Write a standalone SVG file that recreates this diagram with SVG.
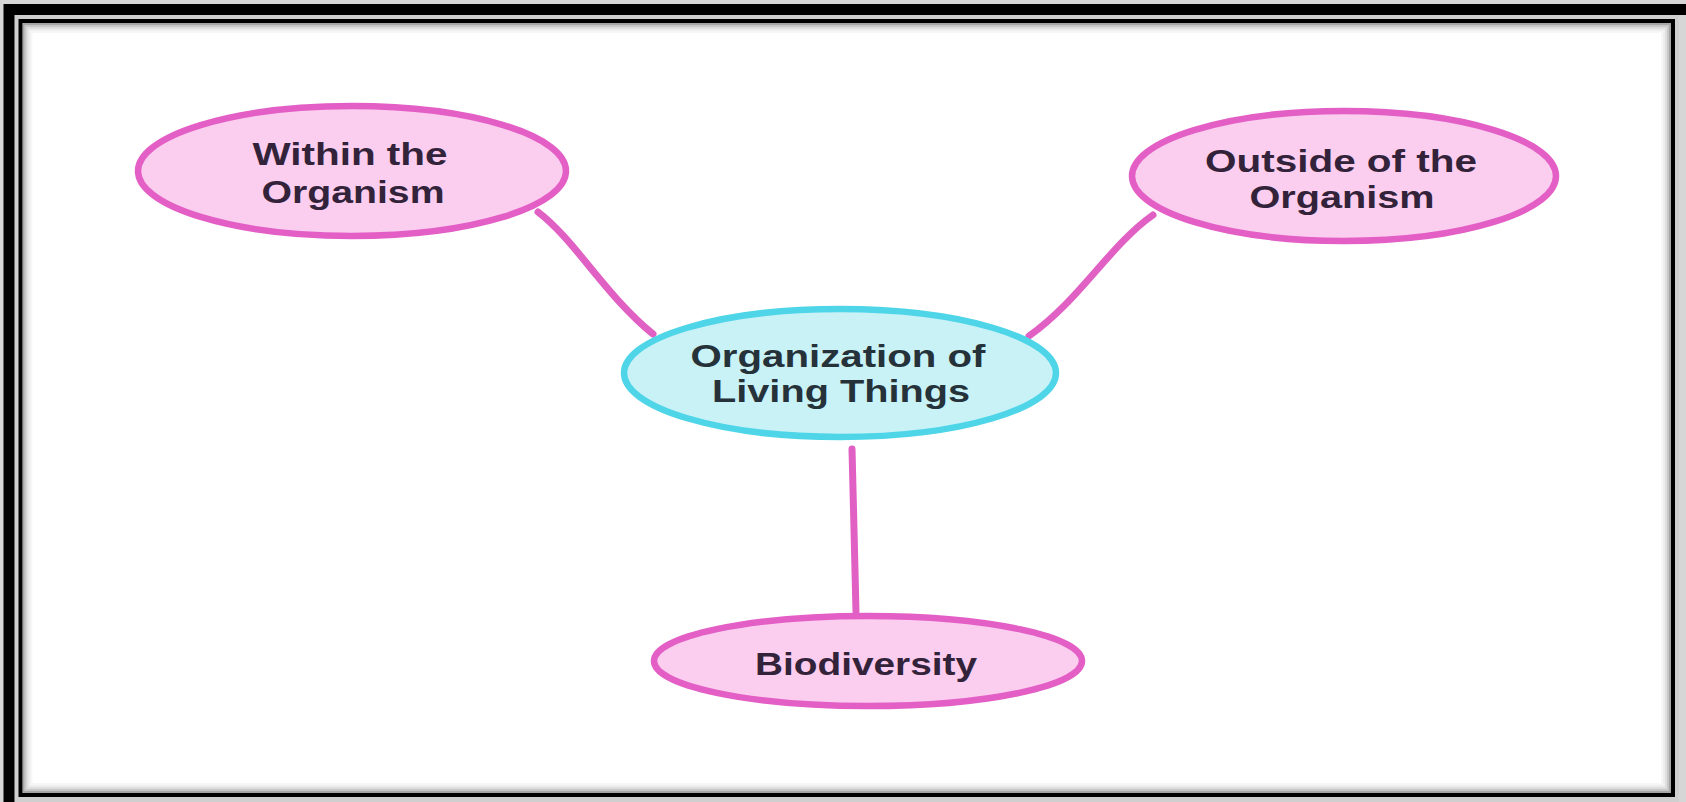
<svg xmlns="http://www.w3.org/2000/svg" width="1686" height="802" viewBox="0 0 1686 802">
<style>
.pk{fill:#fbcdee;stroke:#e35fc6;stroke-width:6.5}
.cy{fill:#c9f2f7;stroke:#4fd5e8;stroke-width:6.5}
.t{font-family:"Liberation Sans",Arial,sans-serif;font-weight:bold;font-size:32px;text-anchor:middle;fill:#33233a}
.tc{fill:#26323a}
.con{fill:none;stroke:#e060c4;stroke-width:7;stroke-linecap:round}
.sh{fill:none;stroke:#000}
</style>
<rect x="0" y="0" width="1686" height="802" fill="#d6d6d6"/>
<rect id="frame-outer" x="9" y="9.5" width="1690" height="820" fill="none" stroke="#000" stroke-width="11"/>
<rect x="15" y="15" width="1664" height="787" fill="#cfcfcf"/>
<rect id="frame-inner" x="20.5" y="21" width="1652.5" height="774" fill="#fff" stroke="#000" stroke-width="4"/>
<g id="inner-shadow">
<rect class="sh" x="23.5" y="24" width="1646.5" height="768" stroke-width="2" stroke-opacity="0.35"/>
<rect class="sh" x="25.5" y="26" width="1642.5" height="764" stroke-width="2" stroke-opacity="0.22"/>
<rect class="sh" x="27.5" y="28" width="1638.5" height="760" stroke-width="2" stroke-opacity="0.13"/>
<rect class="sh" x="29.5" y="30" width="1634.5" height="756" stroke-width="2" stroke-opacity="0.07"/>
<rect class="sh" x="31.5" y="32" width="1630.5" height="752" stroke-width="2" stroke-opacity="0.03"/>
</g>
<g id="connectors">
<path class="con" d="M538,212 C575,240 605,295 653,334"/>
<path class="con" d="M1153,215 C1110,245 1080,300 1029,336"/>
<path class="con" d="M852,449 C853,500 855,560 856,612"/>
</g>
<g id="node-within">
<ellipse class="pk" cx="352" cy="171" rx="214" ry="65"/>
<text class="t" x="350" y="165" textLength="195" lengthAdjust="spacingAndGlyphs">Within the</text>
<text class="t" x="353" y="203" textLength="183" lengthAdjust="spacingAndGlyphs">Organism</text>
</g>
<g id="node-outside">
<ellipse class="pk" cx="1344" cy="176" rx="212" ry="65"/>
<text class="t" x="1341" y="172" textLength="272" lengthAdjust="spacingAndGlyphs">Outside of the</text>
<text class="t" x="1342" y="208" textLength="185" lengthAdjust="spacingAndGlyphs">Organism</text>
</g>
<g id="node-center">
<ellipse class="cy" cx="840" cy="373" rx="216" ry="64"/>
<text class="t tc" x="838" y="367" textLength="295" lengthAdjust="spacingAndGlyphs">Organization of</text>
<text class="t tc" x="841" y="402" textLength="258" lengthAdjust="spacingAndGlyphs">Living Things</text>
</g>
<g id="node-biodiversity">
<ellipse class="pk" cx="868" cy="661" rx="214" ry="45"/>
<text class="t" x="866" y="675" textLength="222" lengthAdjust="spacingAndGlyphs">Biodiversity</text>
</g>
</svg>
